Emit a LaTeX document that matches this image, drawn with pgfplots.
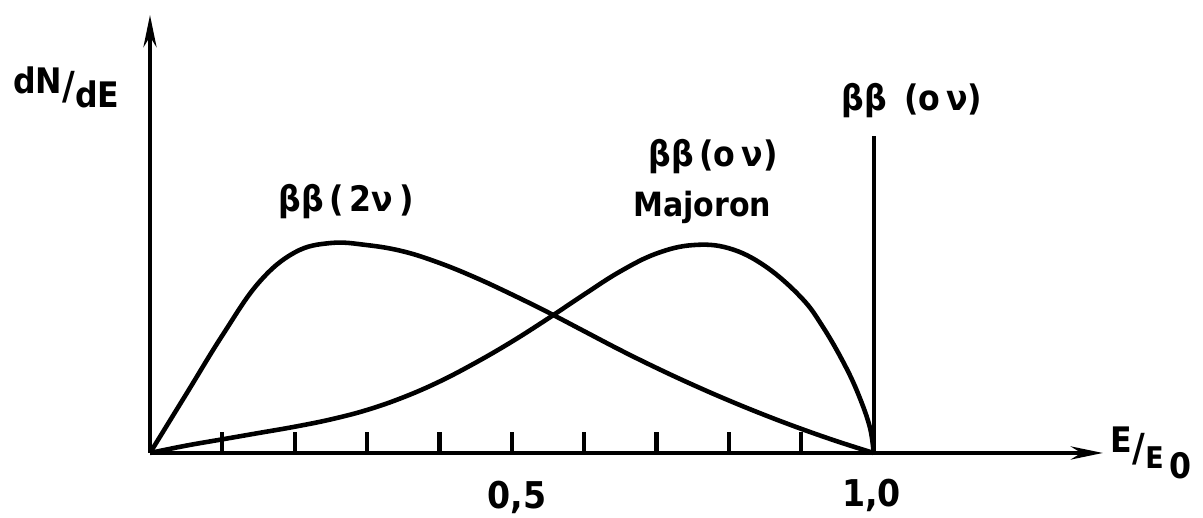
\documentclass[border=0pt]{standalone}
\usepackage{fontspec}
\setmainfont{DejaVu Sans Condensed}[BoldFont=DejaVu Sans Condensed Bold]
\usepackage{pgfplots}
\pgfplotsset{compat=1.18}
\usetikzlibrary{arrows.meta}
\begin{document}
\begin{tikzpicture}
\begin{axis}[
  at={(15.0mm,6.5mm)}, anchor=origin,
  scale only axis, width=95.3mm, height=43.8mm,
  xmin=0, xmax=1.317, ymin=0, ymax=2.086,
  axis lines=left,
  axis line style={line width=1.3pt, -{Stealth[length=3.2mm,width=1.3mm]}},
  xtick={0.1,0.2,0.3,0.4,0.5,0.6,0.7,0.8,0.9},
  xticklabels=\empty, ytick=\empty,
  tick align=inside, major tick length=2.1mm,
  tick style={line width=1.2pt, black},
  clip=false,
]
\addplot[line width=1.3pt, smooth, tension=0.65] coordinates {
(0,0) (0.05,0.28) (0.10,0.56) (0.15,0.81) (0.20,0.955) (0.25,1.0) (0.30,0.99)
(0.35,0.96) (0.40,0.905) (0.45,0.835) (0.50,0.755) (0.55,0.67) (0.60,0.58)
(0.65,0.49) (0.70,0.405) (0.75,0.325) (0.80,0.25) (0.85,0.18) (0.90,0.115)
(0.95,0.055) (1.0,0)};
\addplot[line width=1.3pt, smooth, tension=0.65] coordinates {
(0,0) (0.05,0.035) (0.10,0.065) (0.15,0.095) (0.20,0.125) (0.25,0.16) (0.30,0.205)
(0.35,0.265) (0.40,0.34) (0.45,0.43) (0.50,0.53) (0.55,0.64) (0.60,0.755) (0.65,0.865)
(0.70,0.95) (0.75,0.99) (0.80,0.975) (0.85,0.89) (0.90,0.74) (0.93,0.60) (0.96,0.42)
(0.98,0.27) (0.995,0.12) (1.0,0)};
\addplot[line width=1.2pt] coordinates {(1,0) (1,1.51)};

\node[font=\bfseries\fontsize{10}{12}\selectfont, anchor=base west, inner sep=0] at (axis cs:-0.19,1.714)
  {dN\raisebox{-0.6mm}{\fontsize{11}{12}\selectfont/}\raisebox{-1.4mm}{dE}};
\node[font=\bfseries\fontsize{10}{12}\selectfont, inner sep=0] at (axis cs:0.271,1.195) {ββ\,(\,2ν\,)};
\node[font=\bfseries\fontsize{10}{12}\selectfont, inner sep=0] at (axis cs:0.778,1.41) {ββ\,(o\,ν)};
\node[font=\bfseries\fontsize{9.5}{11}\selectfont, inner sep=0] at (axis cs:0.763,1.17) {Majoron};
\node[font=\bfseries\fontsize{10}{12}\selectfont, inner sep=0] at (axis cs:1.053,1.68) {ββ\enspace(o\,ν)};
\node[font=\bfseries\fontsize{10.5}{12}\selectfont, inner sep=0] at (axis cs:0.507,-0.21) {0,5};
\node[font=\bfseries\fontsize{10.5}{12}\selectfont, inner sep=0] at (axis cs:0.997,-0.20) {1,0};
\node[font=\bfseries\fontsize{10}{12}\selectfont, anchor=base west, inner sep=0] at (axis cs:1.327,0.0)
  {E\raisebox{-0.9mm}{\fontsize{11}{12}\selectfont/}\raisebox{-1.6mm}{\fontsize{8.5}{9}\selectfont E}\,\raisebox{-2.6mm}{\fontsize{10}{10}\selectfont 0}};
\end{axis}
\pgfresetboundingbox
\useasboundingbox (0,0) rectangle (120.3mm,51.8mm);
\end{tikzpicture}
\end{document}
